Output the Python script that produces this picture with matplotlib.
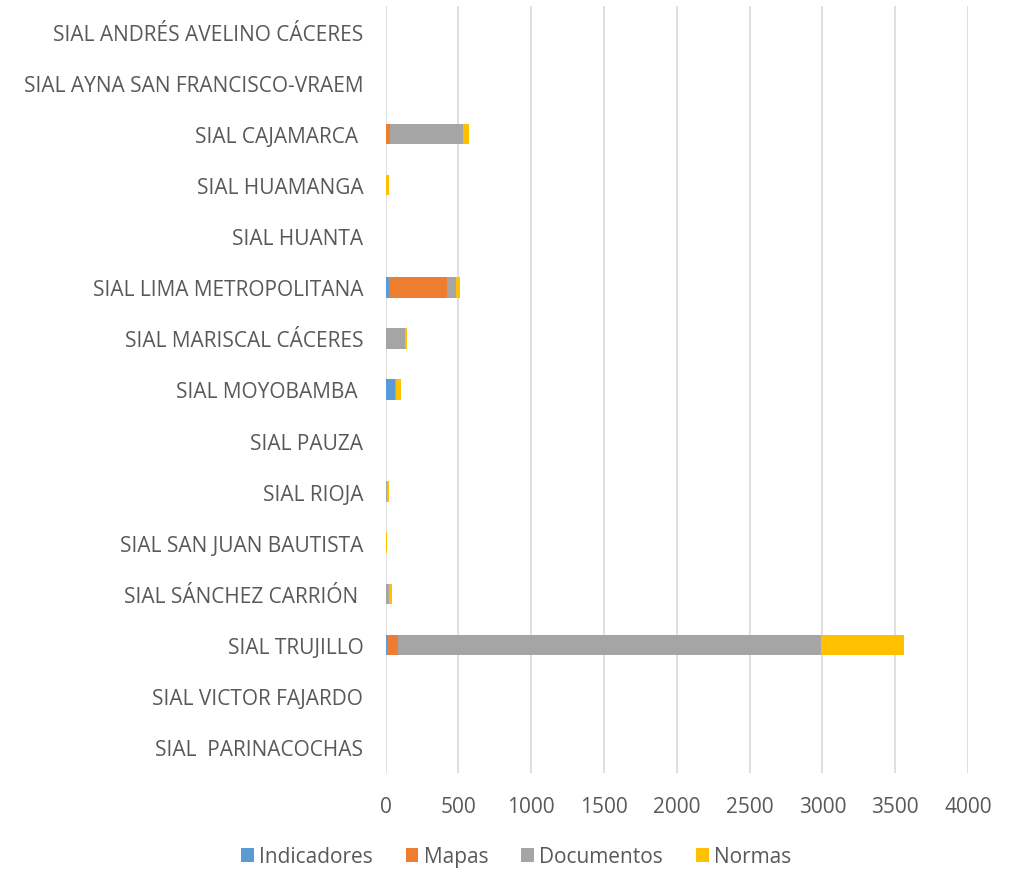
import numpy as np
import matplotlib
matplotlib.use('Agg')
import matplotlib.pyplot as plt

plt.rcParams['font.family'] = ['Open Sans', 'DejaVu Sans']

# categories, top to bottom as shown
sedes = ['SIAL ANDRÉS AVELINO CÁCERES', 'SIAL AYNA SAN FRANCISCO-VRAEM', 'SIAL CAJAMARCA ',
         'SIAL HUAMANGA', 'SIAL HUANTA', 'SIAL LIMA METROPOLITANA', 'SIAL MARISCAL CÁCERES',
         'SIAL MOYOBAMBA ', 'SIAL PAUZA', 'SIAL RIOJA', 'SIAL SAN JUAN BAUTISTA',
         'SIAL SÁNCHEZ CARRIÓN ', 'SIAL TRUJILLO', 'SIAL VICTOR FAJARDO', 'SIAL  PARINACOCHAS']

indicadores = [0, 0, 5, 0, 0, 25, 0, 66, 0, 0, 0, 0, 7, 0, 0]
mapas       = [0, 0, 24, 0, 0, 400, 5, 0, 0, 0, 0, 5, 77, 0, 0]
documentos  = [1, 0, 503, 3, 0, 59, 130, 9, 0, 12, 0, 16, 2909, 0, 2]
normas      = [2, 0, 39, 20, 0, 26, 11, 28, 0, 10, 7, 22, 567, 2, 3]

series = [('Indicadores', indicadores, '#5B9BD5'),
          ('Mapas', mapas, '#ED7D31'),
          ('Documentos', documentos, '#A5A5A5'),
          ('Normas', normas, '#FFC000')]

txt = '#595959'

fig = plt.figure(figsize=(10.12, 8.79), dpi=100)
ax = fig.add_axes([0.381, 0.12, 0.5755, 0.8715])

y = np.arange(len(sedes))
left = np.zeros(len(sedes))
for name, vals, col in series:
    ax.barh(y, vals, left=left, height=0.4, color=col, label=name, zorder=3)
    left = left + np.array(vals)

ax.set_xlim(0, 4000)
ax.set_xticks(range(0, 4001, 500))
ax.set_ylim(len(sedes) - 0.5, -0.5)
ax.set_yticks(y)
ax.set_yticklabels(sedes)
ax.grid(axis='x', color='#d9d9d9', linewidth=1.2, zorder=0)
for s in ax.spines.values():
    s.set_visible(False)
ax.tick_params(length=0, labelsize=15, colors=txt)
ax.tick_params(axis='y', pad=16)
ax.tick_params(axis='x', pad=17)

leg = fig.legend(loc='center', bbox_to_anchor=(0.51, 0.024), ncol=4, frameon=False,
                 fontsize=15, handlelength=0.6, handleheight=0.6, handletextpad=0.25,
                 columnspacing=1.6)
for t in leg.get_texts():
    t.set_color(txt)

fig.savefig('out.png', dpi=100)
